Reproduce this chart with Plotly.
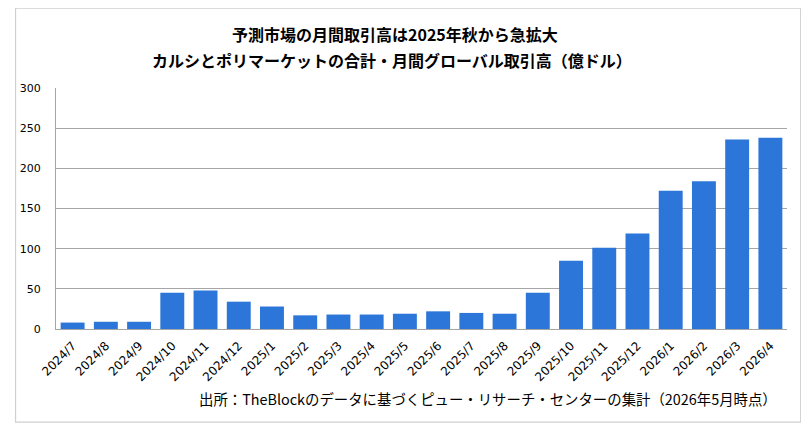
import plotly.graph_objects as go

months = ["2024/7", "2024/8", "2024/9", "2024/10", "2024/11", "2024/12",
          "2025/1", "2025/2", "2025/3", "2025/4", "2025/5", "2025/6",
          "2025/7", "2025/8", "2025/9", "2025/10", "2025/11", "2025/12",
          "2026/1", "2026/2", "2026/3", "2026/4"]
volume = [8, 9, 9, 45, 48, 34, 28, 17, 18, 18, 19, 22,
          20, 19, 45, 85, 101, 119, 172, 184, 236, 238]
y_ticks = [0, 50, 100, 150, 200, 250, 300]

title1 = "予測市場の月間取引高は2025年秋から急拡大"
title2 = "カルシとポリマーケットの合計・月間グローバル取引高（億ドル）"
source = "出所：TheBlockのデータに基づくピュー・リサーチ・センターの集計（2026年5月時点）"

# page body has an 8px margin, so figure coords = screen coords - 8
OFF = 8
W, H = 793, 415
L, R, T, B = 49.3 - OFF, 786.7 - OFF, 88.3 - OFF, 329.3 - OFF
pw, ph = R - L, B - T

def px(x):
    return (x - OFF - L) / pw

def py(y):
    return (B - (y - OFF)) / ph

fig = go.Figure(go.Bar(
    x=months, y=volume,
    marker=dict(color="#2b76d8", line=dict(width=0)),
    hoverinfo="x+y",
))

fig.update_layout(
    width=W, height=H,
    margin=dict(l=L, r=W - R, t=T, b=H - B, pad=0),
    paper_bgcolor="white", plot_bgcolor="white",
    showlegend=False,
    bargap=0.28,
    font=dict(family="DejaVu Sans", size=11, color="#000000"),
    xaxis=dict(
        type="category",
        tickangle=-45,
        tickfont=dict(family="DejaVu Sans", size=12, color="#000000"),
        showline=True, linecolor="#a6a6a6", linewidth=1,
        showgrid=False, ticks="", ticklen=0,
        ticklabelstandoff=4,
    ),
    yaxis=dict(
        range=[0, 300],
        tickvals=y_ticks,
        tickfont=dict(family="DejaVu Sans", size=11, color="#000000"),
        showline=True, linecolor="#a6a6a6", linewidth=1,
        showgrid=True, gridcolor="#a6a6a6", gridwidth=1,
        zeroline=False, ticks="", ticklen=0,
        ticklabelstandoff=12,
    ),
    shapes=[dict(
        type="rect", xref="paper", yref="paper",
        x0=px(8.5), x1=px(800.5), y0=py(422.5), y1=py(8.5),
        line=dict(color="#d0d0d0", width=1.2), fillcolor="rgba(0,0,0,0)",
        layer="below",
    )],
    annotations=[
        dict(text="<b>" + title1 + "</b>", xref="paper", yref="paper",
             x=px(391), y=py(34), xanchor="center", yanchor="middle",
             showarrow=False,
             font=dict(family="Noto Sans CJK JP", size=16, color="#000000")),
        dict(text="<b>" + title2 + "</b>", xref="paper", yref="paper",
             x=px(388), y=py(60), xanchor="center", yanchor="middle",
             showarrow=False,
             font=dict(family="Noto Sans CJK JP", size=16, color="#000000")),
        dict(text=source, xref="paper", yref="paper",
             x=px(779), y=py(399), xanchor="right", yanchor="middle",
             showarrow=False,
             font=dict(family="Noto Sans CJK JP", size=14.4, color="#000000")),
    ],
)

fig.write_html("out.html")
